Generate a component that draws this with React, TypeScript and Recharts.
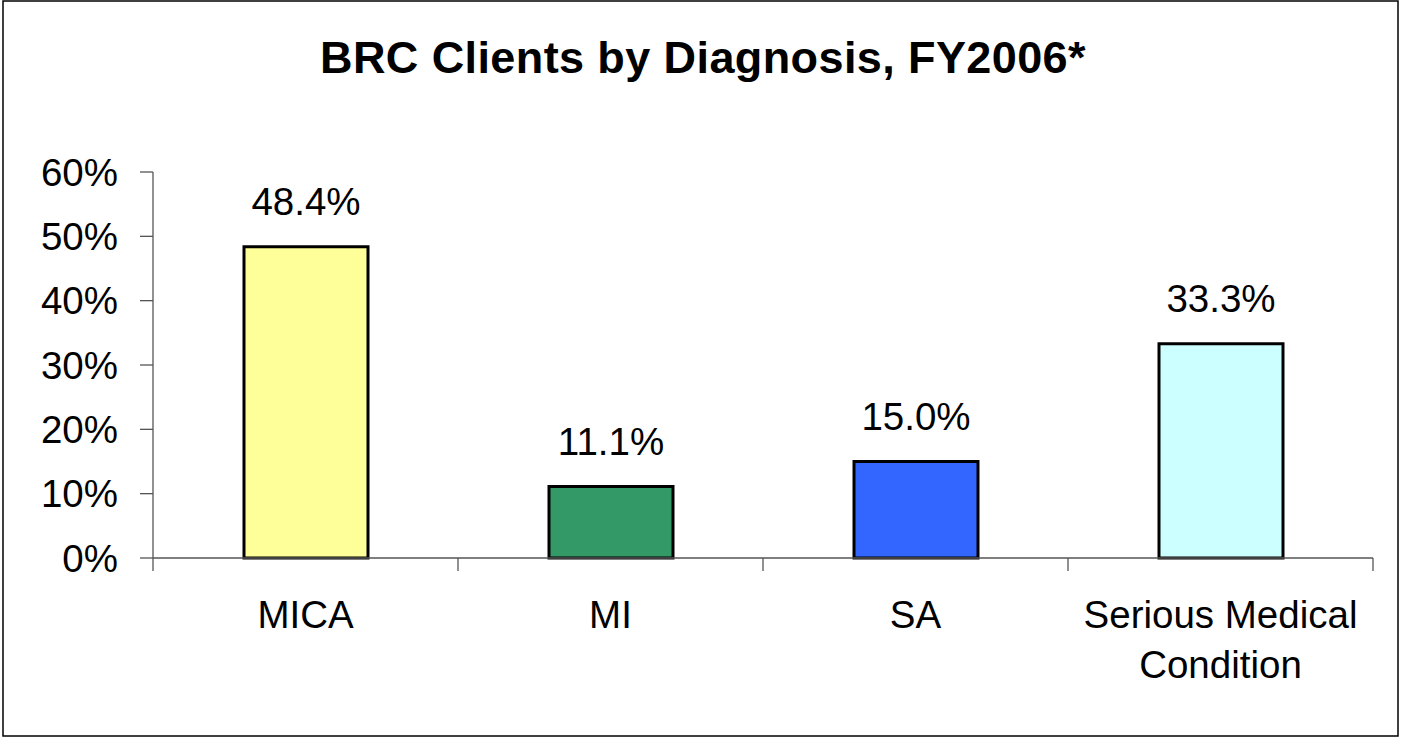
import { Bar, BarChart, Cell, LabelList, XAxis, YAxis } from "recharts";

const categories = ["MICA", "MI", "SA", "Serious Medical\nCondition"];
const shares = [48.4, 11.1, 15.0, 33.3];
const barColors = ["#FFFF99", "#339966", "#3366FF", "#CCFFFF"];
const yTicks = [0, 10, 20, 30, 40, 50, 60];

const W = 1401;
const H = 738;
const PLOT_LEFT = 153;
const PLOT_RIGHT = 1373;
const BAND = (PLOT_RIGHT - PLOT_LEFT) / categories.length;
const FONT = "'Liberation Sans', Arial, sans-serif";
const FS = 38.5;
const AXIS = "#555";

const data = categories.map((name, i) => ({ name, share: shares[i] }));

function CategoryTick(props: any) {
  const { x, y, payload, index } = props;
  const lines = String(payload.value).split("\n");
  const left = x - BAND / 2;
  const top = y - 8;
  return (
    <g>
      <line x1={left} y1={top} x2={left} y2={top + 13} stroke={AXIS} strokeWidth={1.3} />
      {index === categories.length - 1 && (
        <line x1={left + BAND} y1={top} x2={left + BAND} y2={top + 13} stroke={AXIS} strokeWidth={1.3} />
      )}
      <text x={x} y={top + 70} textAnchor="middle" fontFamily={FONT} fontSize={FS} fill="#000">
        {lines.map((l, i) => (
          <tspan key={i} x={x} dy={i === 0 ? 0 : 50}>
            {l}
          </tspan>
        ))}
      </text>
    </g>
  );
}

export default function App() {
  return (
    <div style={{ position: "absolute", left: 0, top: 0, width: W, height: H, background: "#fff" }}>
      <svg width={W} height={H} style={{ position: "absolute", left: 0, top: 0 }}>
        <rect x={3} y={1} width={1395} height={735} fill="none" stroke="#000" strokeWidth={1.5} />
        <text
          x={703}
          y={73}
          textAnchor="middle"
          fontFamily={FONT}
          fontWeight="bold"
          fontSize={45}
          letterSpacing={0.4}
          fill="#000"
        >
          BRC Clients by Diagnosis, FY2006*
        </text>
      </svg>
      <div style={{ position: "absolute", left: 0, top: 0 }}>
        <BarChart
          width={W}
          height={H}
          data={data}
          margin={{ top: 172, right: W - PLOT_RIGHT, bottom: 60, left: 0 }}
        >
          <XAxis
            dataKey="name"
            height={120}
            tickLine={false}
            axisLine={{ stroke: AXIS, strokeWidth: 1.3 }}
            tick={<CategoryTick />}
            interval={0}
          />
          <YAxis
            width={PLOT_LEFT}
            domain={[0, 60]}
            ticks={yTicks}
            interval={0}
            tickFormatter={(v: number) => `${v}%`}
            tickSize={13}
            tickMargin={22}
            tickLine={{ stroke: AXIS, strokeWidth: 1.3 }}
            axisLine={{ stroke: AXIS, strokeWidth: 1.3 }}
            tick={{ fill: "#000", fontSize: FS, fontFamily: FONT }}
          />
          <Bar dataKey="share" barSize={124} stroke="#000" strokeWidth={3} isAnimationActive={false}>
            {data.map((d, i) => (
              <Cell key={d.name} fill={barColors[i]} />
            ))}
            <LabelList
              dataKey="share"
              position="top"
              offset={32}
              formatter={(v: any) => `${Number(v).toFixed(1)}%`}
              style={{ fill: "#000", fontSize: FS, fontFamily: FONT }}
            />
          </Bar>
        </BarChart>
      </div>
    </div>
  );
}
